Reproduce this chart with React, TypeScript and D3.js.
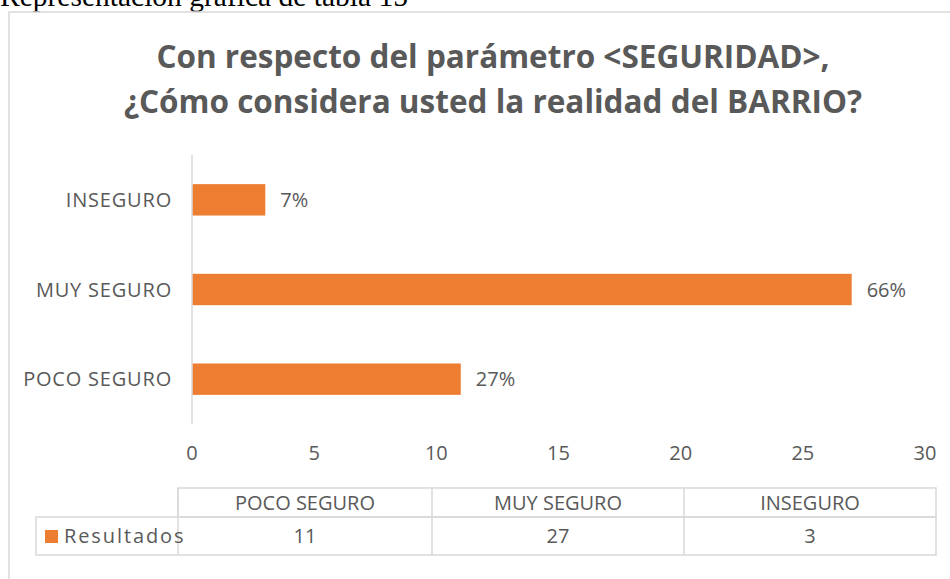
import * as d3 from "d3";
import React from "react";

const categories = ["POCO SEGURO", "MUY SEGURO", "INSEGURO"];
const values = [11, 27, 3];
const percentLabels = ["27%", "66%", "7%"];
const xTicks = [0, 5, 10, 15, 20, 25, 30];
const seriesName = "Resultados";
const titleLines = [
  "Con respecto del parámetro <SEGURIDAD>,",
  "¿Cómo considera usted la realidad del BARRIO?",
];
const caption = "Representación gráfica de tabla 15";

const W = 950;
const H = 579;
const TEXT = "#595959";
const GRID = "#d9d9d9";
const BAR = "#ED7D31";
const FONT = "'Open Sans', sans-serif";

const App = () => {
  const x = d3.scaleLinear().domain([0, 30]).range([192, 925]);
  const y = d3.scaleBand().domain(categories).range([424, 155]).paddingInner(0.65).paddingOuter(0.325);

  // table columns
  const tableLeft = 36;
  const colEdges = [178, 432, 684, 936];
  const rowTop = 488;
  const rowMid = 517;
  const rowBot = 555;

  return (
    <div style={{position: "absolute", left: 0, top: 0}}>
      <svg width={W} height={H} style={{display: "block"}}>
        <rect x={0} y={0} width={W} height={H} fill="#fff"/>
        <text x={0} y={6} fontFamily="'Liberation Serif', serif" fontSize={29.5} fill="#000">{caption}</text>
        <rect x={9} y={12} width={W} height={H} fill="none" stroke={GRID} strokeWidth={1.5}/>

        {titleLines.map((t, i) => (
          <text key={i} x={493} y={68 + i * 45} textAnchor="middle" fontFamily={FONT}
                fontWeight="bold" fontSize={31.5} fill={TEXT}>{t}</text>
        ))}

        {categories.map((c, i) => (
          <g key={c}>
            <rect x={x(0)} y={y(c)} width={x(values[i]) - x(0)} height={y.bandwidth()} fill={BAR}/>
            <text x={172} y={(y(c) as number) + y.bandwidth() / 2} dy="0.35em" textAnchor="end"
                  fontFamily={FONT} fontSize={20} fill={TEXT} letterSpacing={0.8}>{c}</text>
            <text x={x(values[i]) + 15} y={(y(c) as number) + y.bandwidth() / 2} dy="0.35em"
                  fontFamily={FONT} fontSize={20} fill={TEXT}>{percentLabels[i]}</text>
          </g>
        ))}
        <line x1={x(0)} x2={x(0)} y1={155} y2={424} stroke={GRID} strokeWidth={1.5}/>

        {xTicks.map(t => (
          <text key={t} x={x(t)} y={453} dy="0.35em" textAnchor="middle" fontFamily={FONT}
                fontSize={20} fill={TEXT}>{t}</text>
        ))}

        {/* data table */}
        <g stroke={GRID} strokeWidth={1.5} fill="none">
          <rect x={colEdges[0]} y={rowTop} width={colEdges[3] - colEdges[0]} height={rowMid - rowTop}/>
          <rect x={tableLeft} y={rowMid} width={colEdges[3] - tableLeft} height={rowBot - rowMid}/>
          {colEdges.slice(1, 3).map(cx => (
            <line key={cx} x1={cx} x2={cx} y1={rowTop} y2={rowBot}/>
          ))}
          <line x1={colEdges[0]} x2={colEdges[0]} y1={rowTop} y2={rowBot}/>
        </g>
        {categories.map((c, i) => (
          <g key={"t" + c}>
            <text x={(colEdges[i] + colEdges[i + 1]) / 2} y={(rowTop + rowMid) / 2} dy="0.35em"
                  textAnchor="middle" fontFamily={FONT} fontSize={20} fill={TEXT}>{c}</text>
            <text x={(colEdges[i] + colEdges[i + 1]) / 2} y={(rowMid + rowBot) / 2} dy="0.35em"
                  textAnchor="middle" fontFamily={FONT} fontSize={20} fill={TEXT}>{values[i]}</text>
          </g>
        ))}
        <rect x={45} y={530} width={13} height={13} fill={BAR}/>
        <text x={64} y={(rowMid + rowBot) / 2} dy="0.35em" fontFamily={FONT} fontSize={20}
              fill={TEXT} letterSpacing={1.9}>{seriesName}</text>
      </svg>
    </div>
  );
};

export default App;
